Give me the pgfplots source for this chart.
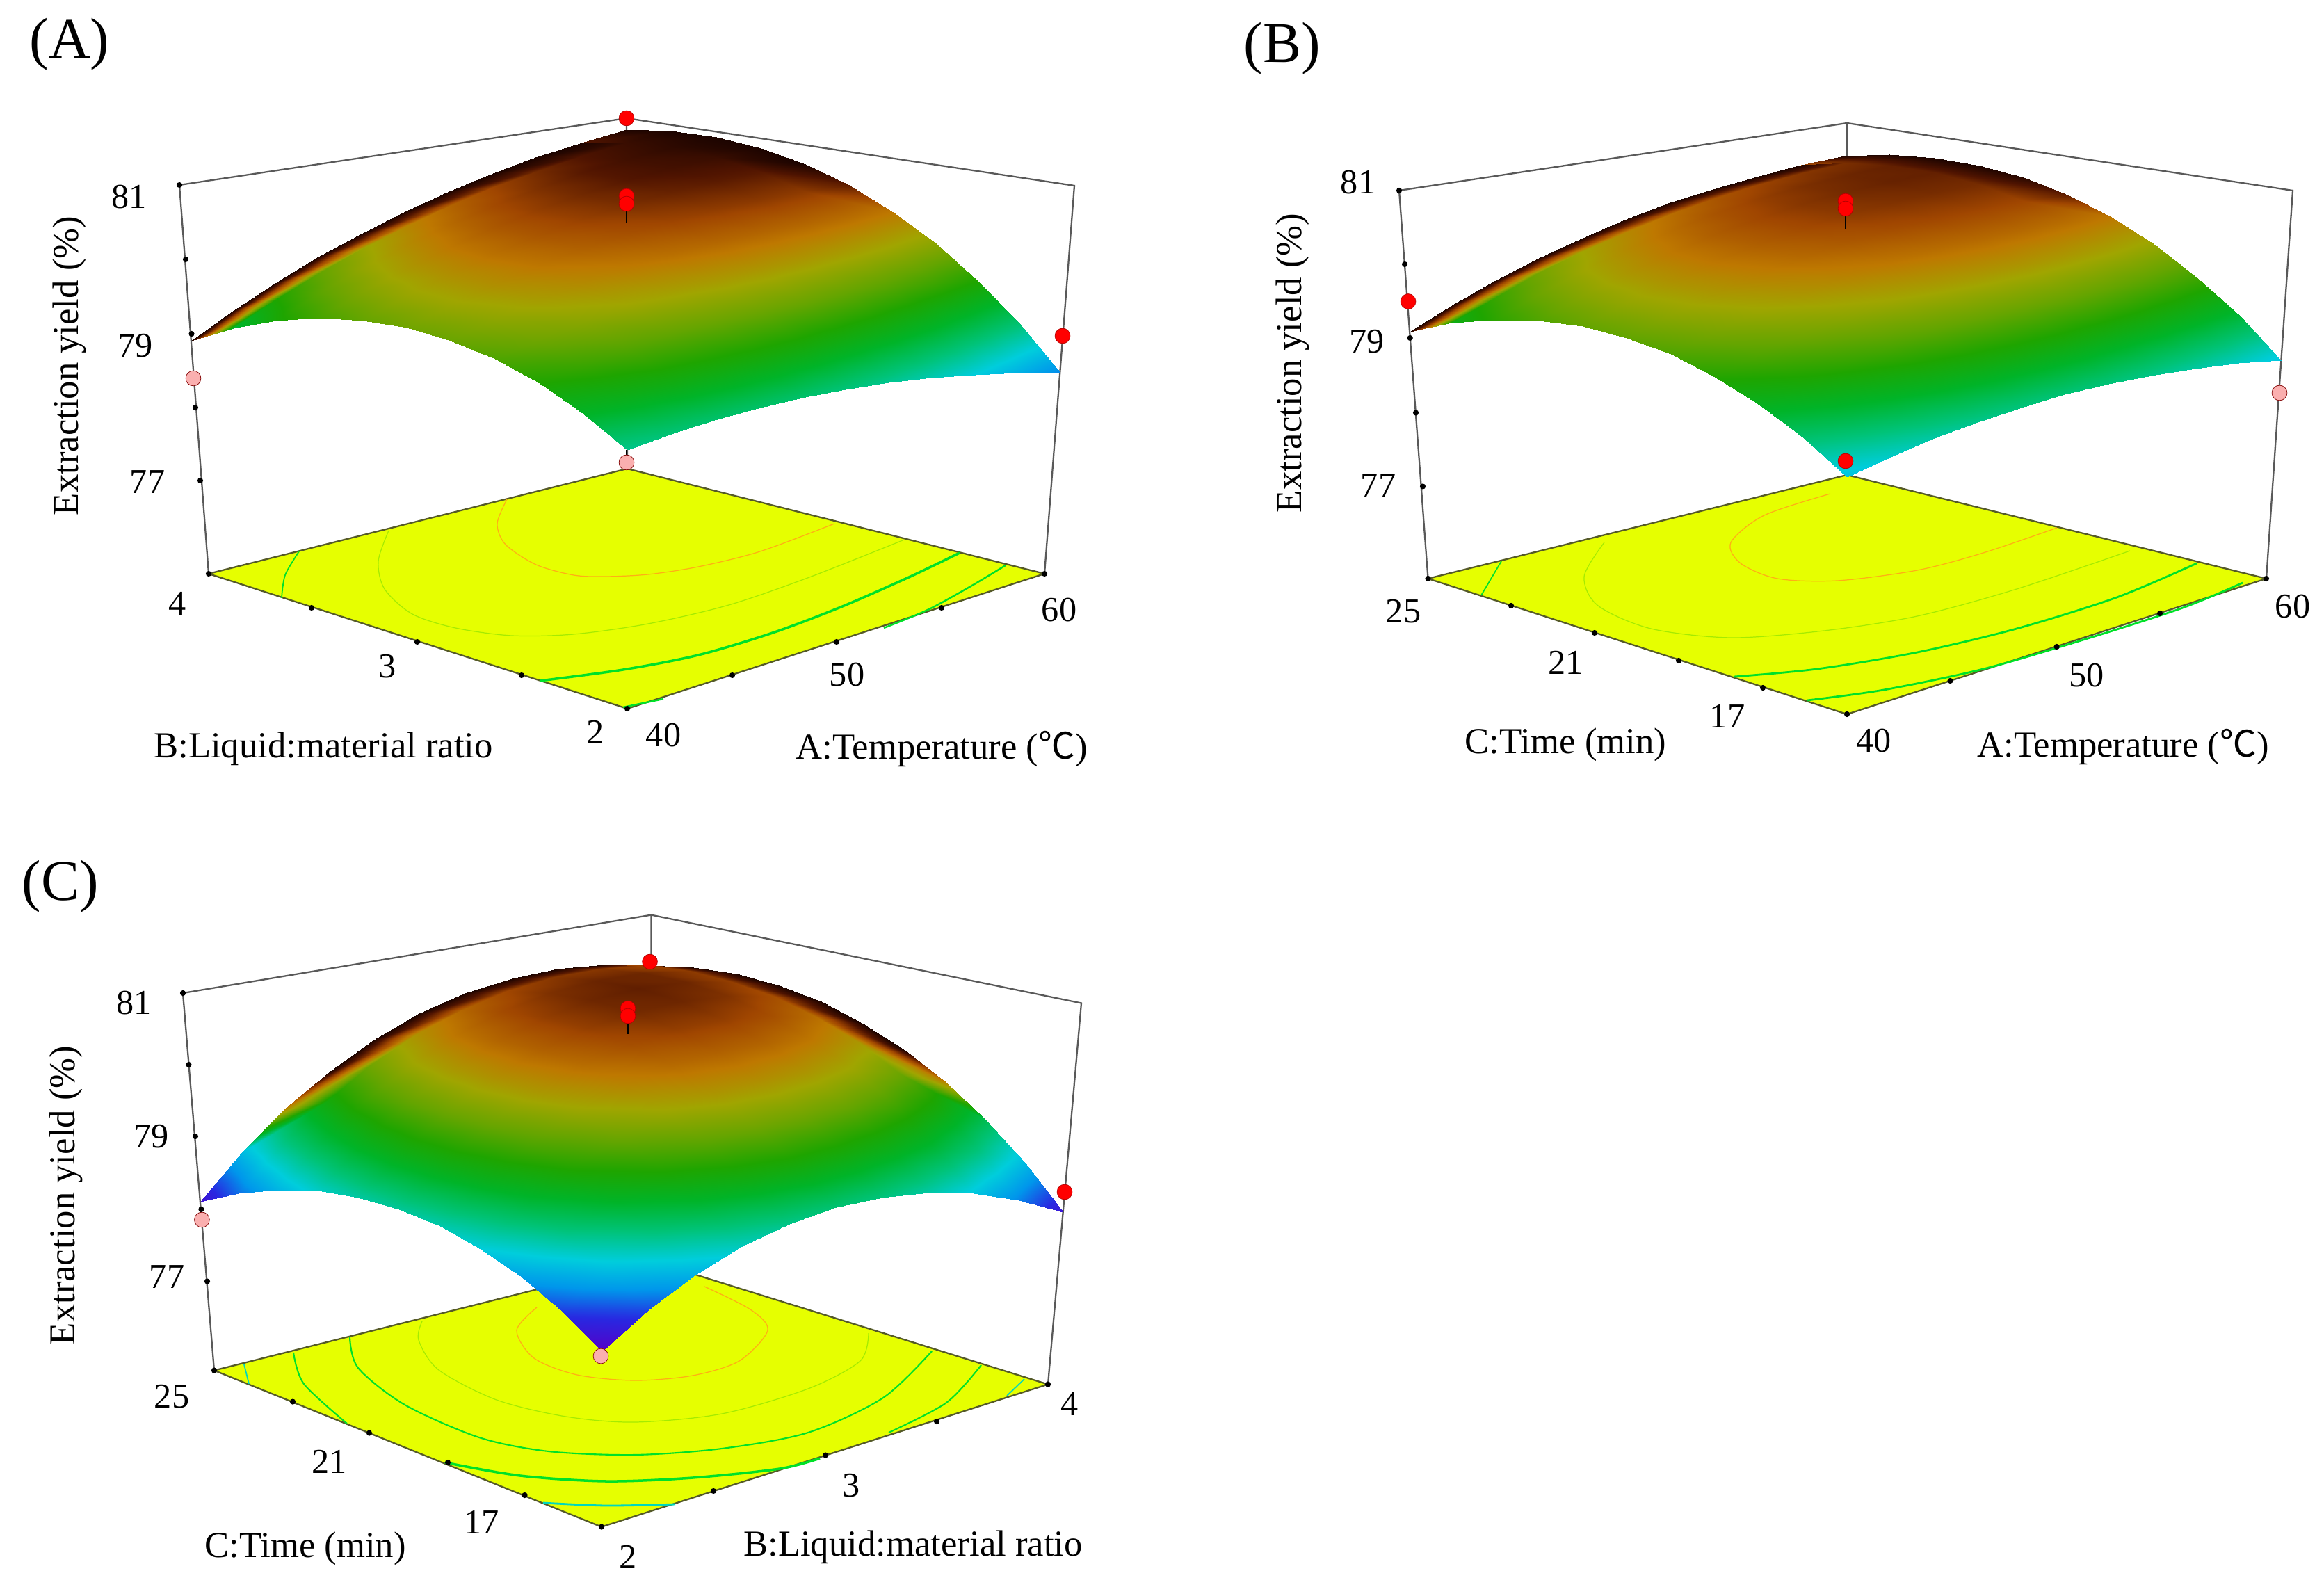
\documentclass[border=0pt]{standalone}
\usepackage{fontspec}
\setmainfont{Liberation Serif}
\newfontfamily\cjk{Noto Sans CJK SC}
\usepackage{pgfplots}
\pgfplotsset{compat=1.18}

\definecolor{basey}{RGB}{230,255,0}
\definecolor{edgec}{RGB}{85,90,40}
\definecolor{cOr}{RGB}{255,175,20}
\definecolor{cYg}{RGB}{165,235,0}
\definecolor{cGr}{RGB}{0,225,40}
\definecolor{cCy}{RGB}{0,215,190}
\definecolor{mPink}{RGB}{250,175,175}

\pgfplotsset{
  rsm/.style={hide axis, clip=false, scale only axis, at={(0,0)}, anchor=south west,
    width=33.42cm, height=22.95cm, xmin=0, xmax=3342, ymin=0, ymax=2295, y dir=reverse,
    zmin=0, zmax=100, view={0}{90},
    colormap={rsm}{rgb255=(85,0,200) rgb255=(40,40,225) rgb255=(0,150,235) rgb255=(0,205,220)
      rgb255=(0,195,120) rgb255=(0,180,40) rgb255=(30,165,0) rgb255=(100,165,0) rgb255=(160,165,0)
      rgb255=(190,120,0) rgb255=(160,70,0) rgb255=(80,20,0) rgb255=(15,0,0)},
    point meta min=78, point meta max=81},
  boxl/.style={color=black!65, line width=0.65pt},
  basef/.style={fill=basey, draw=edgec, line width=0.65pt},
  cont/.style={smooth, line width=#1},
  tickd/.style={only marks, mark=*, mark size=0.95pt, black},
  dred/.style={only marks, mark=*, mark size=3.1pt, mark options={fill=red, draw=red!70!black, line width=0.2pt}},
  dpink/.style={only marks, mark=*, mark size=3.1pt, mark options={fill=mPink, draw=red!50!black, line width=0.2pt}},
  stem/.style={black, line width=0.7pt},
}
\tikzset{
  tl/.style={font=\fontsize{14.3}{17}\selectfont, inner sep=0pt},
  al/.style={font=\fontsize{15}{18}\selectfont, inner sep=0pt},
  pl/.style={font=\fontsize{23.5}{28}\selectfont, inner sep=0pt},
}

\begin{document}
\begin{tikzpicture}[declare function={
    PXA(\a,\b,\c)=902+(600+43*\c)*\a-(602+42*\c)*\b;
    PYA(\a,\b,\c)=1019-194*\a-194*\b+43*\a*\b-\c*(610-52*\a-51*\b-3*\a*\b);
    PXB(\a,\b,\c)=2656+(603+38*\c)*\a-(602.5+41.5*\c)*\b;
    PYB(\a,\b,\c)=1027-195.4*\a-195.4*\b+46.8*\a*\b-\c*(610-52.4*\a-52.4*\b+0.8*\a*\b);
    PXC(\a,\b,\c)=865+3*\c+(642+45*\c)*\a-(557+48*\c)*\b-14*\a*\b;
    PYC(\a,\b,\c)=2195.6-205*\a-225*\b+47.4*\a*\b-\c*(600-52*\a-57.4*\b+6.8*\a*\b);
  }]
\path[use as bounding box] (0,0) rectangle (33.42cm,22.95cm);

% (A) temperature / liquid:material ratio
\begin{axis}[rsm]
\addplot[boxl] coordinates {(300,825)(258,266)(901,170)(1545,267)(1502,825)};
\addplot[boxl] coordinates {(901,170)(902,674)};
\addplot[basef] coordinates {(902,1019)(1502,825)(902,674)(300,825)(902,1019)};
\addplot[cont=0.35pt, cOr] coordinates {(729,718)(715,753)(727,783)(771,812)(825,827)(870,829)(932,826)(1004,815)(1093,793)(1200,753)};
\addplot[cont=0.35pt, cYg] coordinates {(559,763)(544,807)(553,847)(593,883)(655,903)(736,914)(825,912)(932,897)(1048,870)(1164,830)(1298,777)};
\addplot[cont=0.5pt, cGr] coordinates {(430,793)(410,827)(405,860)};
\addplot[cont=1pt, cGr] coordinates {(776,979)(896,963)(1004,942)(1111,910)(1209,873)(1307,830)(1380,795)};
\addplot[cont=0.7pt, cGr] coordinates {(1446,813)(1396,843)(1334,877)(1271,903)};
\addplot[cont=0.7pt, cGr] coordinates {(896,1017)(954,1005)};
\addplot3[surf, shader=interp, mesh/rows=11, mesh/cols=11, point meta=explicit] table[
  x expr={PXA((\thisrow{A}-40)/20,(\thisrow{B}-2)/2,(\thisrow{Y}-75.74)/5.26)},
  y expr={PYA((\thisrow{A}-40)/20,(\thisrow{B}-2)/2,(\thisrow{Y}-75.74)/5.26)},
  z expr=0, meta=Y] {
A B Y
60 4 80.83
58 4 80.74
56 4 80.63
54 4 80.49
52 4 80.33
50 4 80.15
48 4 79.94
46 4 79.72
44 4 79.46
42 4 79.19
40 4 78.89
60 3.8 80.91
58 3.8 80.84
56 3.8 80.76
54 3.8 80.64
52 3.8 80.51
50 3.8 80.35
48 3.8 80.17
46 3.8 79.96
44 3.8 79.74
42 3.8 79.49
40 3.8 79.21
60 3.6 80.92
58 3.6 80.88
56 3.6 80.81
54 3.6 80.73
52 3.6 80.61
50 3.6 80.48
48 3.6 80.32
46 3.6 80.14
44 3.6 79.94
42 3.6 79.71
40 3.6 79.46
60 3.4 80.86
58 3.4 80.84
56 3.4 80.80
54 3.4 80.74
52 3.4 80.65
50 3.4 80.54
48 3.4 80.41
46 3.4 80.25
44 3.4 80.07
42 3.4 79.87
40 3.4 79.64
60 3.2 80.73
58 3.2 80.73
56 3.2 80.72
54 3.2 80.68
52 3.2 80.62
50 3.2 80.53
48 3.2 80.42
46 3.2 80.29
44 3.2 80.13
42 3.2 79.96
40 3.2 79.75
60 3 80.53
58 3 80.56
56 3 80.57
54 3 80.55
52 3 80.51
50 3 80.45
48 3 80.37
46 3 80.26
44 3 80.13
42 3 79.97
40 3 79.80
60 2.8 80.25
58 2.8 80.31
56 2.8 80.34
54 2.8 80.35
52 2.8 80.34
50 2.8 80.30
48 2.8 80.24
46 2.8 80.16
44 2.8 80.05
42 2.8 79.92
40 2.8 79.77
60 2.6 79.91
58 2.6 79.99
56 2.6 80.05
54 2.6 80.08
52 2.6 80.09
50 2.6 80.08
48 2.6 80.04
46 2.6 79.99
44 2.6 79.90
42 2.6 79.80
40 2.6 79.67
60 2.4 79.50
58 2.4 79.61
56 2.4 79.69
54 2.4 79.75
52 2.4 79.78
50 2.4 79.79
48 2.4 79.78
46 2.4 79.74
44 2.4 79.69
42 2.4 79.60
40 2.4 79.50
60 2.2 79.02
58 2.2 79.15
56 2.2 79.26
54 2.2 79.34
52 2.2 79.39
50 2.2 79.43
48 2.2 79.44
46 2.2 79.43
44 2.2 79.40
42 2.2 79.34
40 2.2 79.26
60 2 78.47
58 2 78.62
56 2 78.75
54 2 78.86
52 2 78.94
50 2 79.00
48 2 79.04
46 2 79.05
44 2 79.04
42 2 79.01
40 2 78.95
};
% dark rim where the mesh lines crowd together at the far edges
\addplot3[surf, shader=interp, mesh/rows=2, mesh/cols=11, point meta=explicit] table[
  x expr={PXA((\thisrow{A}-40)/20,(\thisrow{B}-2)/2,(\thisrow{Y}-75.74)/5.26)},
  y expr={PYA((\thisrow{A}-40)/20,(\thisrow{B}-2)/2,(\thisrow{Y}-75.74)/5.26)},
  z expr=0, meta=M] {
A B Y M
60 4 80.83 80.95
58 4 80.74 80.95
56 4 80.63 80.95
54 4 80.49 80.95
52 4 80.33 80.95
50 4 80.15 80.95
48 4 79.94 80.95
46 4 79.72 80.95
44 4 79.46 80.95
42 4 79.19 80.95
40 4 78.89 80.95
60 3.8 80.91 80.91
58 3.8 80.84 80.84
56 3.8 80.76 80.76
54 3.8 80.64 80.64
52 3.8 80.51 80.51
50 3.8 80.35 80.35
48 3.8 80.17 80.17
46 3.8 79.96 79.96
44 3.8 79.74 79.74
42 3.8 79.49 79.49
40 3.8 79.21 79.21
};
\addplot3[surf, shader=interp, mesh/rows=11, mesh/cols=2, point meta=explicit] table[
  x expr={PXA((\thisrow{A}-40)/20,(\thisrow{B}-2)/2,(\thisrow{Y}-75.74)/5.26)},
  y expr={PYA((\thisrow{A}-40)/20,(\thisrow{B}-2)/2,(\thisrow{Y}-75.74)/5.26)},
  z expr=0, meta=M] {
A B Y M
60 4 80.83 80.95
58 4 80.74 80.74
60 3.8 80.91 80.95
58 3.8 80.84 80.84
60 3.6 80.92 80.95
58 3.6 80.88 80.88
60 3.4 80.86 80.95
58 3.4 80.84 80.84
60 3.2 80.73 80.95
58 3.2 80.73 80.73
60 3 80.53 80.7
58 3 80.56 80.56
60 2.8 80.25 80.25
58 2.8 80.31 80.31
60 2.6 79.91 79.91
58 2.6 79.99 79.99
60 2.4 79.50 79.50
58 2.4 79.61 79.61
60 2.2 79.02 79.02
58 2.2 79.15 79.15
60 2 78.47 78.47
58 2 78.62 78.62
};
\addplot[tickd] coordinates {(258,266)(267,373)(275.5,480)(281,586)(288,691)(300,825)(448,874)(600,923)(750,971)(902,1019)(1053,971)(1203,923)(1354,874)(1502,825)};
\addplot[stem] coordinates {(901,647)(901,665)};
\addplot[stem] coordinates {(901,288)(901,320)};
\addplot[dred] coordinates {(901,170)(901,282)(901,293)(1528,483)};
\addplot[dpink] coordinates {(278,544)(901,665)};
\node[pl] at (axis cs:100,64) {(A)};
\node[al, rotate=90] at (axis cs:100,526) {Extraction yield (\%)};
\node[tl] at (axis cs:186,283) {81};
\node[tl] at (axis cs:194.5,497) {79};
\node[tl] at (axis cs:212,693) {77};
\node[tl] at (axis cs:255,868) {4};
\node[tl] at (axis cs:557,958) {3};
\node[tl] at (axis cs:856,1053) {2};
\node[tl] at (axis cs:954,1057) {40};
\node[tl] at (axis cs:1218,970) {50};
\node[tl] at (axis cs:1523,877) {60};
\node[al] at (axis cs:465,1077) {B:Liquid:material ratio};
\node[al] at (axis cs:1354,1077) {A:Temperature ({\cjk ℃})};
\end{axis}

% (B) temperature / time
\begin{axis}[rsm]
\addplot[boxl] coordinates {(2053.5,832)(2012,274)(2656,177)(3297,274)(3259,832)};
\addplot[boxl] coordinates {(2656,177)(2656,683)};
\addplot[basef] coordinates {(2656,1027)(3259,832)(2656,683)(2053.5,832)(2656,1027)};
\addplot[cont=0.35pt, cOr] coordinates {(2632,710)(2537,741)(2489,780)(2503,810)(2556,832)(2642,835)(2757,820)(2852,795)(2958,759)};
\addplot[cont=0.35pt, cYg] coordinates {(2307,780)(2278,829)(2298,871)(2374,904)(2489,917)(2623,907)(2757,886)(2900,847)(3063,792)};
\addplot[cont=0.5pt, cGr] coordinates {(2159,807)(2130,856)};
\addplot[cont=0.8pt, cGr] coordinates {(2494,973)(2613,962)(2757,938)(2900,904)(3044,859)(3159,810)};
\addplot[cont=0.8pt, cGr] coordinates {(2599,1007)(2709,992)(2852,962)(2996,920)(3139,874)(3225,838)};
\addplot3[surf, shader=interp, mesh/rows=11, mesh/cols=11, point meta=explicit] table[
  x expr={PXB((\thisrow{A}-40)/20,(\thisrow{C}-15)/10,(\thisrow{Y}-75.76)/5.24)},
  y expr={PYB((\thisrow{A}-40)/20,(\thisrow{C}-15)/10,(\thisrow{Y}-75.76)/5.24)},
  z expr=0, meta=Y] {
A C Y
60 25 80.51
58 25 80.48
56 25 80.42
54 25 80.34
52 25 80.24
50 25 80.11
48 25 79.95
46 25 79.77
44 25 79.57
42 25 79.34
40 25 79.09
60 24 80.64
58 24 80.62
56 24 80.58
54 24 80.51
52 24 80.42
50 24 80.30
48 24 80.16
46 24 80.00
44 24 79.81
42 24 79.59
40 24 79.36
60 23 80.69
58 23 80.69
56 23 80.66
54 23 80.61
52 23 80.53
50 23 80.43
48 23 80.30
46 23 80.15
44 23 79.98
42 23 79.78
40 23 79.55
60 22 80.68
58 22 80.69
56 22 80.68
54 22 80.64
52 22 80.58
50 22 80.49
48 22 80.38
46 22 80.24
44 22 80.08
42 22 79.89
40 22 79.68
60 21 80.61
58 21 80.63
56 21 80.63
54 21 80.60
52 21 80.56
50 21 80.48
48 21 80.38
46 21 80.26
44 21 80.11
42 21 79.94
40 21 79.75
60 20 80.46
58 20 80.50
56 20 80.51
54 20 80.50
52 20 80.47
50 20 80.41
48 20 80.32
46 20 80.21
44 20 80.08
42 20 79.92
40 20 79.74
60 19 80.25
58 19 80.30
56 19 80.33
54 19 80.33
52 19 80.31
50 19 80.26
48 19 80.19
46 19 80.10
44 19 79.98
42 19 79.83
40 19 79.67
60 18 79.96
58 18 80.03
56 18 80.07
54 18 80.09
52 18 80.08
50 18 80.05
48 18 79.99
46 18 79.91
44 18 79.81
42 18 79.68
40 18 79.52
60 17 79.61
58 17 79.69
56 17 79.75
54 17 79.78
52 17 79.79
50 17 79.77
48 17 79.73
46 17 79.66
44 17 79.57
42 17 79.45
40 17 79.31
60 16 79.20
58 16 79.29
56 16 79.36
54 16 79.40
52 16 79.43
50 16 79.42
48 16 79.39
46 16 79.34
44 16 79.26
42 16 79.16
40 16 79.04
60 15 78.71
58 15 78.82
56 15 78.90
54 15 78.96
52 15 79.00
50 15 79.01
48 15 78.99
46 15 78.95
44 15 78.89
42 15 78.80
40 15 78.69
};
\addplot3[surf, shader=interp, mesh/rows=2, mesh/cols=11, point meta=explicit] table[
  x expr={PXB((\thisrow{A}-40)/20,(\thisrow{C}-15)/10,(\thisrow{Y}-75.76)/5.24)},
  y expr={PYB((\thisrow{A}-40)/20,(\thisrow{C}-15)/10,(\thisrow{Y}-75.76)/5.24)},
  z expr=0, meta=M] {
A C Y M
60 25 80.51 80.95
58 25 80.48 80.95
56 25 80.42 80.95
54 25 80.34 80.95
52 25 80.24 80.95
50 25 80.11 80.95
48 25 79.95 80.95
46 25 79.77 80.95
44 25 79.57 80.95
42 25 79.34 80.95
40 25 79.09 80.95
60 24 80.64 80.64
58 24 80.62 80.62
56 24 80.58 80.58
54 24 80.51 80.51
52 24 80.42 80.42
50 24 80.30 80.30
48 24 80.16 80.16
46 24 80.00 80.00
44 24 79.81 79.81
42 24 79.59 79.59
40 24 79.36 79.36
};
\addplot3[surf, shader=interp, mesh/rows=11, mesh/cols=2, point meta=explicit] table[
  x expr={PXB((\thisrow{A}-40)/20,(\thisrow{C}-15)/10,(\thisrow{Y}-75.76)/5.24)},
  y expr={PYB((\thisrow{A}-40)/20,(\thisrow{C}-15)/10,(\thisrow{Y}-75.76)/5.24)},
  z expr=0, meta=M] {
A C Y M
60 25 80.51 80.95
58 25 80.48 80.48
60 24 80.64 80.95
58 24 80.62 80.62
60 23 80.69 80.95
58 23 80.69 80.69
60 22 80.68 80.95
58 22 80.69 80.69
60 21 80.61 80.9
58 21 80.63 80.63
60 20 80.46 80.7
58 20 80.50 80.50
60 19 80.25 80.25
58 19 80.30 80.30
60 18 79.96 79.96
58 18 80.03 80.03
60 17 79.61 79.61
58 17 79.69 79.69
60 16 79.20 79.20
58 16 79.29 79.29
60 15 78.71 78.71
58 15 78.82 78.82
};
\addplot[tickd] coordinates {(2012,274)(2020,380)(2027.7,486)(2036,593.5)(2046,699.5)(2053.5,832)(2173,871)(2293,910)(2414,950)(2535,989)(2656,1027)(2804.5,979)(2957.6,930)(3106,882)(3259,832)};
\addplot[stem] coordinates {(2654,295)(2654,330)};
\addplot[dred] coordinates {(2025,433.5)(2654,289)(2654,300)(2654,663)};
\addplot[dpink] coordinates {(3278,565)};
\node[pl] at (axis cs:1844,70) {(B)};
\node[al, rotate=90] at (axis cs:1859,522) {Extraction yield (\%)};
\node[tl] at (axis cs:1953,262) {81};
\node[tl] at (axis cs:1965.5,491) {79};
\node[tl] at (axis cs:1982,698) {77};
\node[tl] at (axis cs:2018,879) {25};
\node[tl] at (axis cs:2251.5,953) {21};
\node[tl] at (axis cs:2484,1030) {17};
\node[tl] at (axis cs:2694.5,1065) {40};
\node[tl] at (axis cs:3000.6,971) {50};
\node[tl] at (axis cs:3297,872) {60};
\node[al] at (axis cs:2251.5,1071) {C:Time (min)};
\node[al] at (axis cs:3053,1074) {A:Temperature ({\cjk ℃})};
\end{axis}

% (C) liquid:material ratio / time
\begin{axis}[rsm]
\addplot[boxl] coordinates {(308,1970.6)(263,1428)(936.5,1315.6)(1555,1442.5)(1507,1990.6)};
\addplot[boxl] coordinates {(936.5,1315.6)(936,1813)};
\addplot[basef] coordinates {(865,2195.6)(1507,1990.6)(936,1813)(308,1970.6)(865,2195.6)};
\addplot[dred] coordinates {(934.5,1383)};
\addplot[cont=0.35pt, cOr] coordinates {(772,1880)(743,1913)(768,1953)(830,1977)(913,1985)(996,1978)(1063,1957)(1104,1913)(1079,1883)(1013,1850)};
\addplot[cont=0.35pt, cYg] coordinates {(607,1900)(602,1927)(631,1970)(714,2013)(814,2037)(913,2045)(1038,2033)(1162,1997)(1237,1957)(1249,1917)};
\addplot[cont=0.6pt, cGr] coordinates {(503,1923)(515,1967)(582,2020)(689,2067)(789,2087)(913,2092)(1038,2083)(1162,2060)(1270,2010)(1340,1943)};
\addplot[cont=0.6pt, cGr] coordinates {(422,1945)(437,1990)(499,2047)};
\addplot[cont=0.6pt, cGr] coordinates {(1411,1963)(1361,2017)(1278,2060)};
\addplot[cont=1pt, cGr] coordinates {(640,2103)(748,2122)(872,2130)(996,2125)(1121,2112)(1179,2097)};
\addplot[cont=0.8pt, cCy] coordinates {(781,2161)(872,2165)(971,2163)};
\addplot[cont=0.5pt, cCy] coordinates {(351,1962)(358,1990)};
\addplot[cont=0.5pt, cCy] coordinates {(1473,1983)(1448,2007)};
\addplot3[surf, shader=interp, mesh/rows=11, mesh/cols=11, point meta=explicit] table[
  x expr={PXC((\thisrow{B}-2)/2,(\thisrow{C}-15)/10,(\thisrow{Y}-75.76)/5.24)},
  y expr={PYC((\thisrow{B}-2)/2,(\thisrow{C}-15)/10,(\thisrow{Y}-75.76)/5.24)},
  z expr=0, meta=Y] {
B C Y
4 25 80.24
3.8 25 80.37
3.6 25 80.43
3.4 25 80.41
3.2 25 80.31
3 25 80.14
2.8 25 79.88
2.6 25 79.55
2.4 25 79.15
2.2 25 78.66
2 25 78.10
4 24 80.35
3.8 24 80.50
3.6 24 80.58
3.4 24 80.58
3.2 24 80.50
3 24 80.34
2.8 24 80.11
2.6 24 79.80
2.4 24 79.41
2.2 24 78.95
2 24 78.41
4 23 80.39
3.8 23 80.56
3.6 23 80.66
3.4 23 80.67
3.2 23 80.61
3 23 80.48
2.8 23 80.27
2.6 23 79.98
2.4 23 79.61
2.2 23 79.16
2 23 78.64
4 22 80.35
3.8 22 80.54
3.6 22 80.66
3.4 22 80.70
3.2 22 80.66
3 22 80.54
2.8 22 80.35
2.6 22 80.08
2.4 22 79.73
2.2 22 79.31
2 22 78.81
4 21 80.25
3.8 21 80.46
3.6 21 80.60
3.4 21 80.66
3.2 21 80.64
3 21 80.54
2.8 21 80.37
2.6 21 80.12
2.4 21 79.79
2.2 21 79.38
2 21 78.90
4 20 80.07
3.8 20 80.30
3.6 20 80.46
3.4 20 80.54
3.2 20 80.54
3 20 80.46
2.8 20 80.31
2.6 20 80.08
2.4 20 79.77
2.2 20 79.38
2 20 78.92
4 19 79.83
3.8 19 80.08
3.6 19 80.25
3.4 19 80.35
3.2 19 80.37
3 19 80.32
2.8 19 80.18
2.6 19 79.97
2.4 19 79.68
2.2 19 79.32
2 19 78.87
4 18 79.51
3.8 18 79.78
3.6 18 79.98
3.4 18 80.09
3.2 18 80.13
3 18 80.10
2.8 18 79.98
2.6 18 79.79
2.4 18 79.52
2.2 18 79.18
2 18 78.75
4 17 79.12
3.8 17 79.41
3.6 17 79.63
3.4 17 79.76
3.2 17 79.82
3 17 79.81
2.8 17 79.71
2.6 17 79.54
2.4 17 79.29
2.2 17 78.97
2 17 78.56
4 16 78.66
3.8 16 78.97
3.6 16 79.21
3.4 16 79.36
3.2 16 79.44
3 16 79.45
2.8 16 79.37
2.6 16 79.22
2.4 16 78.99
2.2 16 78.69
2 16 78.30
4 15 78.13
3.8 15 78.46
3.6 15 78.72
3.4 15 78.89
3.2 15 78.99
3 15 79.02
2.8 15 78.96
2.6 15 78.83
2.4 15 78.62
2.2 15 78.33
2 15 77.97
};
\addplot3[surf, shader=interp, mesh/rows=2, mesh/cols=11, point meta=explicit] table[
  x expr={PXC((\thisrow{B}-2)/2,(\thisrow{C}-15)/10,(\thisrow{Y}-75.76)/5.24)},
  y expr={PYC((\thisrow{B}-2)/2,(\thisrow{C}-15)/10,(\thisrow{Y}-75.76)/5.24)},
  z expr=0, meta=M] {
B C Y M
4 25 80.24 80.95
3.8 25 80.37 80.95
3.6 25 80.43 80.95
3.4 25 80.41 80.95
3.2 25 80.31 80.95
3 25 80.14 80.95
2.8 25 79.88 80.95
2.6 25 79.55 80.95
2.4 25 79.15 80.2
2.2 25 78.66 78.66
2 25 78.10 78.10
4 24 80.35 80.35
3.8 24 80.50 80.50
3.6 24 80.58 80.58
3.4 24 80.58 80.58
3.2 24 80.50 80.50
3 24 80.34 80.34
2.8 24 80.11 80.11
2.6 24 79.80 79.80
2.4 24 79.41 79.41
2.2 24 78.95 78.95
2 24 78.41 78.41
};
\addplot3[surf, shader=interp, mesh/rows=11, mesh/cols=2, point meta=explicit] table[
  x expr={PXC((\thisrow{B}-2)/2,(\thisrow{C}-15)/10,(\thisrow{Y}-75.76)/5.24)},
  y expr={PYC((\thisrow{B}-2)/2,(\thisrow{C}-15)/10,(\thisrow{Y}-75.76)/5.24)},
  z expr=0, meta=M] {
B C Y M
4 25 80.24 80.95
3.8 25 80.37 80.37
4 24 80.35 80.95
3.8 24 80.50 80.50
4 23 80.39 80.95
3.8 23 80.56 80.56
4 22 80.35 80.95
3.8 22 80.54 80.54
4 21 80.25 80.95
3.8 21 80.46 80.46
4 20 80.07 80.95
3.8 20 80.30 80.30
4 19 79.83 80.95
3.8 19 80.08 80.08
4 18 79.51 80.2
3.8 18 79.78 79.78
4 17 79.12 79.12
3.8 17 79.41 79.41
4 16 78.66 78.66
3.8 16 78.97 78.97
4 15 78.13 78.13
3.8 15 78.46 78.46
};
\addplot[tickd] coordinates {(263,1428)(271.5,1531)(281,1634)(289.4,1739)(298,1842.5)(308,1970.6)(421,2015.6)(531,2060.6)(644,2103)(754.5,2150)(865,2195.6)(1026,2144)(1187,2092.5)(1347,2044)(1507,1990.6)};
\addplot[stem] coordinates {(903,1455)(903,1487)};
\addplot[dred] coordinates {(903,1450)(903,1461)(1531,1714)};
\addplot[dpink] coordinates {(290.4,1754)(864,1950)};
\node[pl] at (axis cs:87,1275) {(C)};
\node[al, rotate=90] at (axis cs:95,1719) {Extraction yield (\%)};
\node[tl] at (axis cs:192.6,1442.5) {81};
\node[tl] at (axis cs:218,1634) {79};
\node[tl] at (axis cs:240,1836) {77};
\node[tl] at (axis cs:247,2008) {25};
\node[tl] at (axis cs:473.5,2102) {21};
\node[tl] at (axis cs:692.4,2189) {17};
\node[tl] at (axis cs:903,2239) {2};
\node[tl] at (axis cs:1224,2135.6) {3};
\node[tl] at (axis cs:1538.4,2019) {4};
\node[al] at (axis cs:439,2227) {C:Time (min)};
\node[al] at (axis cs:1313,2225) {B:Liquid:material ratio};
\end{axis}
\end{tikzpicture}
\end{document}
